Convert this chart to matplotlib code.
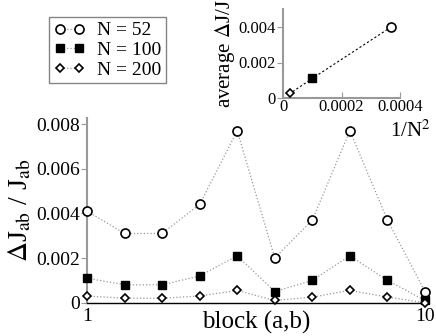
import matplotlib
matplotlib.use("Agg")
import matplotlib.pyplot as plt

# main panel data
blocks = [1, 2, 3, 4, 5, 6, 7, 8, 9, 10]
dj_52 = [0.0041, 0.0031, 0.0031, 0.0044, 0.0077, 0.0020, 0.0037, 0.0077, 0.0037, 0.0005]
dj_100 = [0.0011, 0.0008, 0.0008, 0.0012, 0.0021, 0.0005, 0.0010, 0.0021, 0.0010, 0.0001]
dj_200 = [0.0003, 0.0002, 0.0002, 0.0003, 0.00055, 0.0001, 0.00025, 0.00055, 0.00025, 0.0]

# inset data
inv_n2 = [1 / 52**2, 1 / 100**2, 1 / 200**2]
avg_dj = [0.0040, 0.0011, 0.00027]

W, H = 436, 336
plt.rcParams["font.family"] = ["Liberation Serif", "DejaVu Serif"]
plt.rcParams["mathtext.fontset"] = "stix"

fig = plt.figure(figsize=(W / 100, H / 100), dpi=100)


def px_axes(x0, y0, x1, y1):
    return fig.add_axes([x0 / W, 1 - y1 / H, (x1 - x0) / W, (y1 - y0) / H])


gray = "#999999"
styles = [
    dict(marker="o", ms=6.5, mfc="white", mec="black", mew=1.2),
    dict(marker="s", ms=6, mfc="black", mec="black", mew=1.0),
    dict(marker="D", ms=4.5, mfc="white", mec="black", mew=1.2),
]

ax = px_axes(87, 118, 425, 302.7)
for vals, st, lab in zip([dj_52, dj_100, dj_200], styles, ["N = 52", "N = 100", "N = 200"]):
    ax.plot(blocks, vals, ls=":", lw=0.9, color=gray, clip_on=False, zorder=3, label=lab, **st)
ax.set_xlim(1, 10)
ax.set_ylim(0, 0.00827)
ax.set_yticks([0, 0.002, 0.004, 0.006, 0.008])
ax.set_yticklabels(["0", "0.002", "0.004", "0.006", "0.008"])
ax.set_xticks([1, 10])
ax.set_xticklabels(["1", "10"])
for s in ["top", "right"]:
    ax.spines[s].set_visible(False)
ax.spines["left"].set_color(gray)
ax.spines["left"].set_linewidth(1.5)
ax.spines["bottom"].set_color("black")
ax.spines["bottom"].set_linewidth(1.0)
ax.tick_params(axis="y", direction="out", length=4, color=gray, labelsize=14, pad=1)
ax.tick_params(axis="x", length=0, labelsize=14, pad=4)
ax.set_ylabel(r"$\Delta$J$_{\rm ab}$ / J$_{\rm ab}$", fontsize=20, labelpad=2)
fig.text(256 / W, 1 - 322 / H, "block (a,b)", fontsize=18, ha="center", va="center")

leg = fig.legend(loc="upper left", bbox_to_anchor=(49 / W, 1 - 17 / H), numpoints=2,
                 fontsize=14, frameon=True, fancybox=False, handlelength=1.6,
                 handletextpad=0.6, borderpad=0.25, labelspacing=0.1, borderaxespad=0)
leg.get_frame().set_edgecolor("#666666")
leg.get_frame().set_linewidth(1.0)

# inset
ins = px_axes(283, 9.25, 400, 98)
ins.plot(inv_n2, avg_dj, ls="--", lw=0.8, color="black", zorder=2, dashes=(2, 2))
for xv, yv, st in zip(inv_n2, avg_dj, styles):
    ins.plot([xv], [yv], ls="none", zorder=3, clip_on=False, **st)
ins.set_xlim(0, 0.0004)
ins.set_ylim(0, 0.005)
ins.set_xticks([0, 0.0002, 0.0004])
ins.set_xticklabels(["0", "0.0002", "0.0004"])
ins.set_yticks([0, 0.002, 0.004])
ins.set_yticklabels(["0", "0.002", "0.004"])
for s in ["top", "right"]:
    ins.spines[s].set_visible(False)
for s in ["left", "bottom"]:
    ins.spines[s].set_color(gray)
    ins.spines[s].set_linewidth(1.5)
ins.tick_params(axis="y", direction="out", length=4, color=gray, labelsize=12, pad=1)
ins.tick_params(axis="x", direction="in", length=4, color=gray, labelsize=12, pad=1)
ins.set_ylabel(r"average $\Delta$J/J", fontsize=15, labelpad=1)
fig.text(410 / W, 1 - 131 / H, r"1/N$^2$", fontsize=15, ha="center", va="center")

fig.savefig("out.png", dpi=100)
